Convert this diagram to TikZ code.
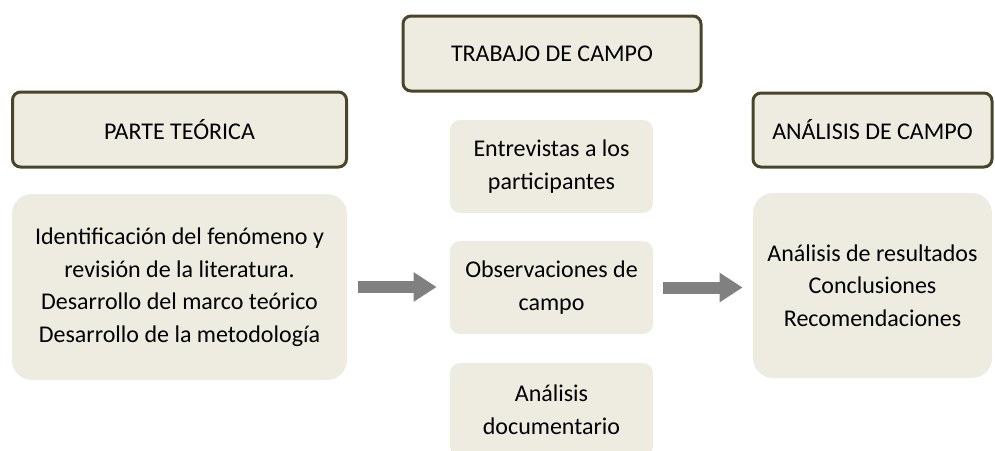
\documentclass[tikz,border=0pt]{standalone}
\usepackage{fontspec}
\setmainfont{Carlito}
\usetikzlibrary{arrows.meta}
\definecolor{boxfill}{HTML}{EEECE1}
\definecolor{boxline}{HTML}{4A452A}
\definecolor{arrowgray}{HTML}{808080}
\begin{document}
\begin{tikzpicture}[x=0.5pt, y=-0.5pt,
        every node/.style={font=\fontsize{12}{16.25}\selectfont, align=center, inner sep=0pt},
        header/.style={draw=boxline, line width=1.5pt, fill=boxfill, rounded corners=4pt},
        content/.style={fill=boxfill, rounded corners=10pt},
        item/.style={fill=boxfill, rounded corners=5pt, minimum width=101.5pt, minimum height=46.5pt},
        flow/.style={arrowgray, line width=6pt, -{Triangle[length=11.5pt, width=14pt]}}]
            \useasboundingbox (0,0) rectangle (995,450);

            \node[header, minimum width=167pt, minimum height=37.5pt] (parte) at (179.5,129.5) {PARTE TEÓRICA};
            \node[content, minimum width=167.5pt, minimum height=93pt] (teoria) at (179.5,287)
                {Identificación del fenómeno y\\ revisión de la literatura.\\ Desarrollo del marco teórico\\ Desarrollo de la metodología};

            \node[header, minimum width=149pt, minimum height=37.5pt] (trabajo) at (552,53.5) {TRABAJO DE CAMPO};
            \node[item] (entrevistas) at (551.5,166.5) {Entrevistas a los\\ participantes};
            \node[item] (observaciones) at (551.5,287.5) {Observaciones de\\ campo};
            \node[item] (documental) at (551.5,409.5) {Análisis\\ documentario};

            \node[header, minimum width=119.5pt, minimum height=37pt] (analisis) at (872.5,130) {ANÁLISIS DE CAMPO};
            \node[content, minimum width=119.5pt, minimum height=92.5pt] (resultados) at (872.5,285.5)
                {Análisis de resultados\\ Conclusiones\\ Recomendaciones};

            \draw[flow, shorten <=5.5pt, shorten >=6.5pt] (teoria.east) -- (teoria.east -| observaciones.west);
            \draw[flow, shorten <=5pt, shorten >=5pt] (observaciones.east) -- (observaciones.east -| resultados.west);
        \end{tikzpicture}
\end{document}
